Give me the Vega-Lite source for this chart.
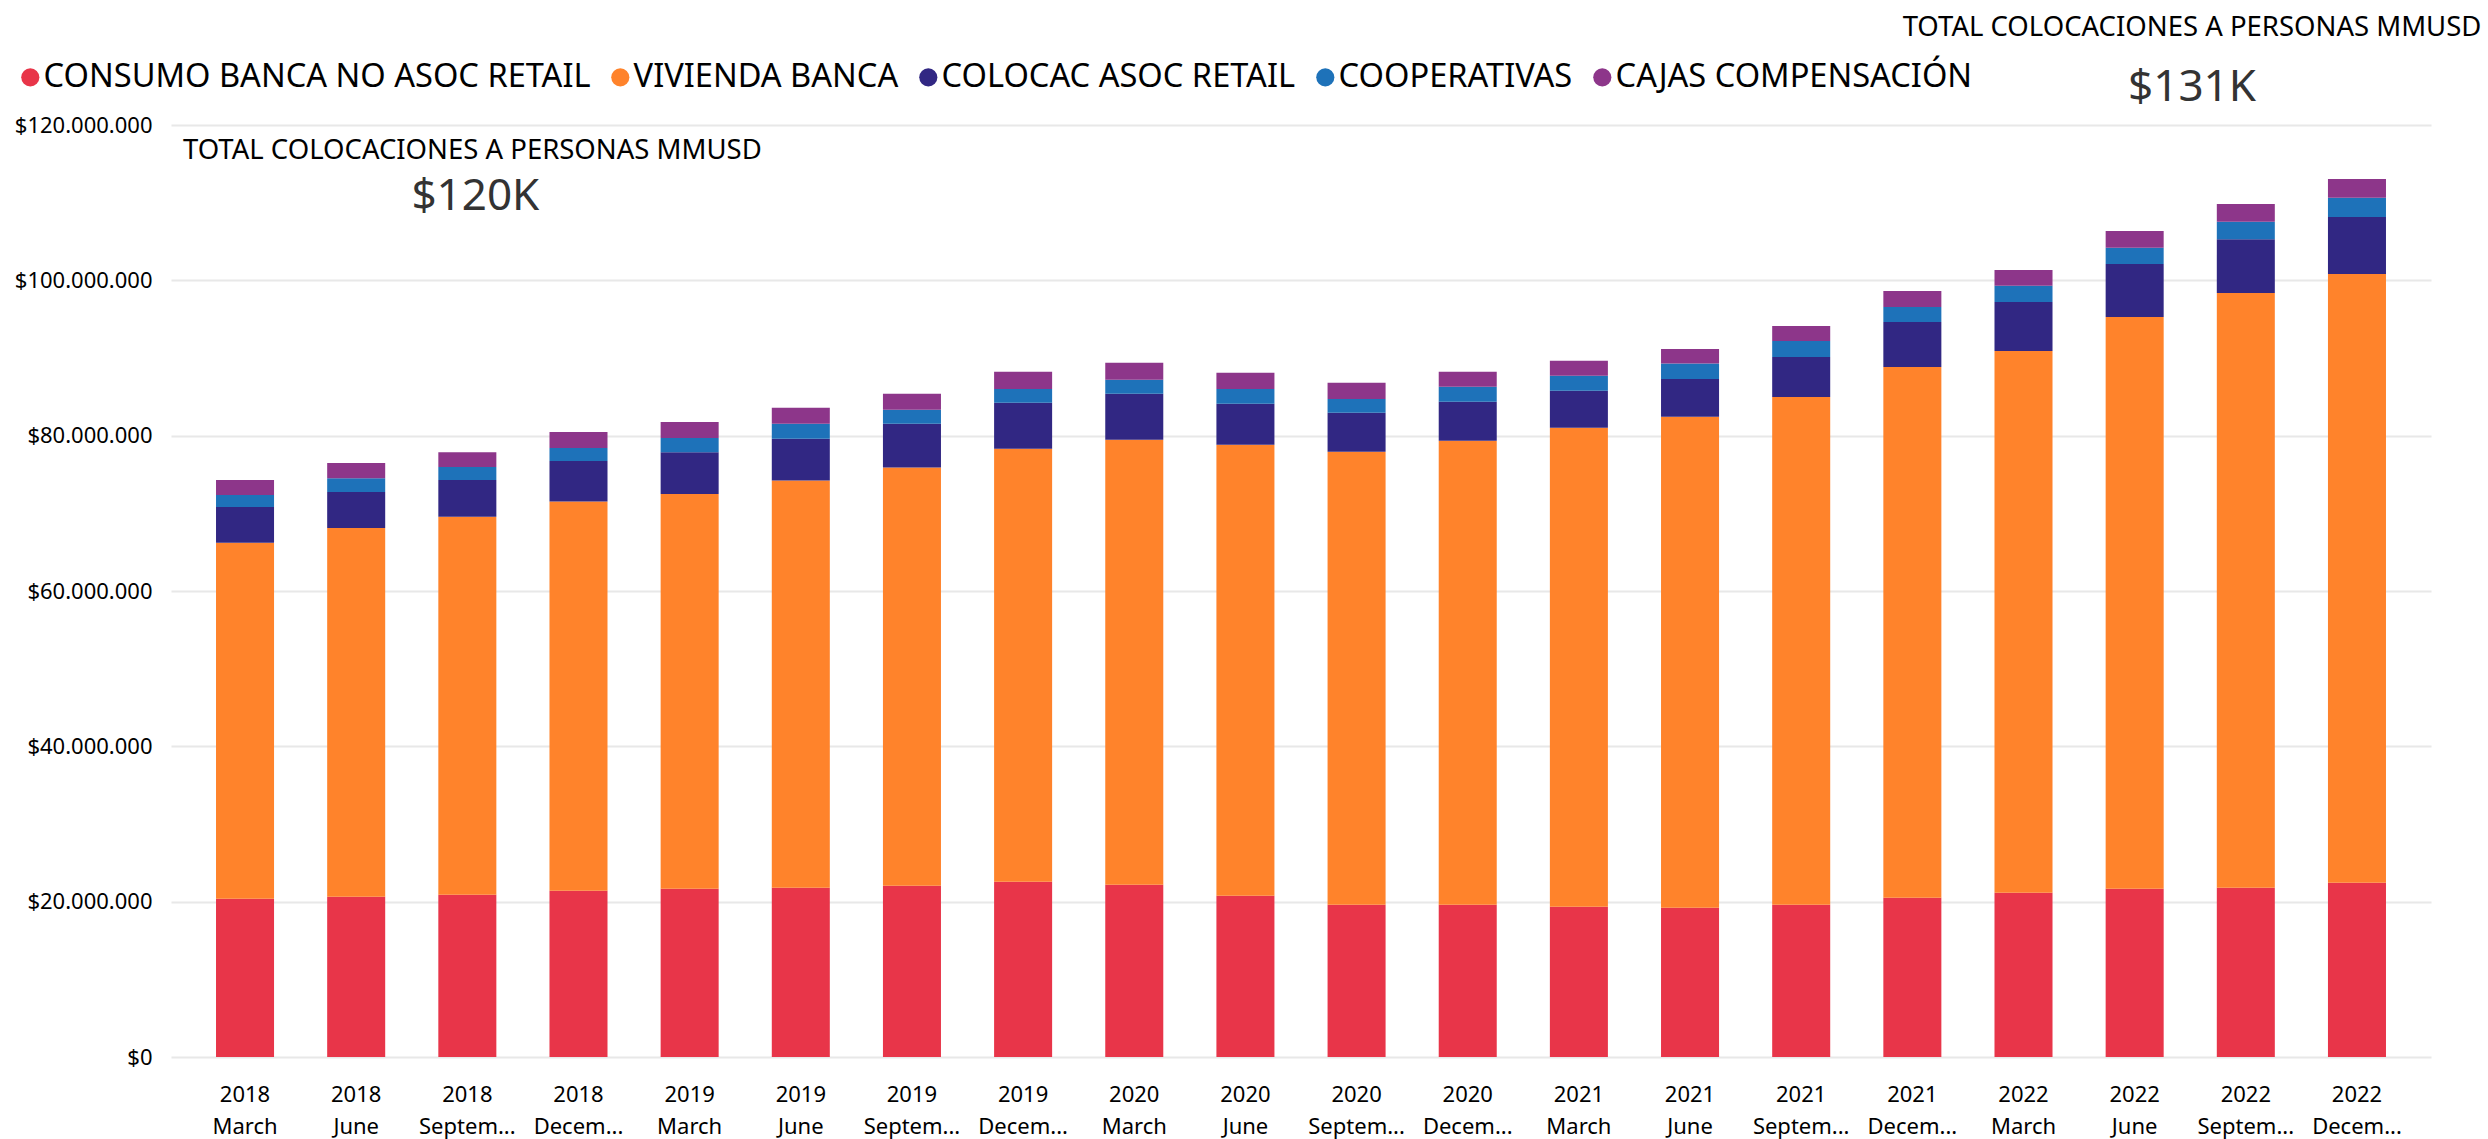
{
  "$schema": "https://vega.github.io/schema/vega-lite/v6.json",
  "width": 2260,
  "height": 932,
  "autosize": {"type": "none"},
  "padding": {"left": 171, "top": 125, "right": 57, "bottom": 82},
  "background": "#ffffff",
  "config": {
    "view": {"stroke": null},
    "font": "Noto Sans",
    "locale": {"number": {"decimal": ",", "thousands": ".", "grouping": [3], "currency": ["$", ""]}}
  },
  "title": {
    "text": "TOTAL COLOCACIONES A PERSONAS MMUSD",
    "subtitle": "$131K",
    "anchor": "end",
    "align": "center",
    "frame": "group",
    "dx": -239,
    "offset": -49,
    "font": "Noto Sans",
    "fontSize": 27.5,
    "fontWeight": "normal",
    "color": "#000000",
    "subtitleFont": "Noto Sans",
    "subtitleFontSize": 44,
    "subtitleColor": "#333333",
    "subtitlePadding": 25
  },
  "datasets": {
    "colocaciones": [
      {"periodo": "2018 March", "serie": "CONSUMO BANCA NO ASOC RETAIL", "orden": 1, "valor": 20390000},
      {"periodo": "2018 March", "serie": "VIVIENDA BANCA", "orden": 2, "valor": 45810000},
      {"periodo": "2018 March", "serie": "COLOCAC ASOC RETAIL", "orden": 3, "valor": 4630000},
      {"periodo": "2018 March", "serie": "COOPERATIVAS", "orden": 4, "valor": 1530000},
      {"periodo": "2018 March", "serie": "CAJAS COMPENSACIÓN", "orden": 5, "valor": 1920000},
      {"periodo": "2018 June", "serie": "CONSUMO BANCA NO ASOC RETAIL", "orden": 1, "valor": 20640000},
      {"periodo": "2018 June", "serie": "VIVIENDA BANCA", "orden": 2, "valor": 47480000},
      {"periodo": "2018 June", "serie": "COLOCAC ASOC RETAIL", "orden": 3, "valor": 4640000},
      {"periodo": "2018 June", "serie": "COOPERATIVAS", "orden": 4, "valor": 1760000},
      {"periodo": "2018 June", "serie": "CAJAS COMPENSACIÓN", "orden": 5, "valor": 1970000},
      {"periodo": "2018 September", "serie": "CONSUMO BANCA NO ASOC RETAIL", "orden": 1, "valor": 20900000},
      {"periodo": "2018 September", "serie": "VIVIENDA BANCA", "orden": 2, "valor": 48650000},
      {"periodo": "2018 September", "serie": "COLOCAC ASOC RETAIL", "orden": 3, "valor": 4730000},
      {"periodo": "2018 September", "serie": "COOPERATIVAS", "orden": 4, "valor": 1670000},
      {"periodo": "2018 September", "serie": "CAJAS COMPENSACIÓN", "orden": 5, "valor": 1930000},
      {"periodo": "2018 December", "serie": "CONSUMO BANCA NO ASOC RETAIL", "orden": 1, "valor": 21420000},
      {"periodo": "2018 December", "serie": "VIVIENDA BANCA", "orden": 2, "valor": 50100000},
      {"periodo": "2018 December", "serie": "COLOCAC ASOC RETAIL", "orden": 3, "valor": 5220000},
      {"periodo": "2018 December", "serie": "COOPERATIVAS", "orden": 4, "valor": 1680000},
      {"periodo": "2018 December", "serie": "CAJAS COMPENSACIÓN", "orden": 5, "valor": 2060000},
      {"periodo": "2019 March", "serie": "CONSUMO BANCA NO ASOC RETAIL", "orden": 1, "valor": 21670000},
      {"periodo": "2019 March", "serie": "VIVIENDA BANCA", "orden": 2, "valor": 50830000},
      {"periodo": "2019 March", "serie": "COLOCAC ASOC RETAIL", "orden": 3, "valor": 5380000},
      {"periodo": "2019 March", "serie": "COOPERATIVAS", "orden": 4, "valor": 1820000},
      {"periodo": "2019 March", "serie": "CAJAS COMPENSACIÓN", "orden": 5, "valor": 2070000},
      {"periodo": "2019 June", "serie": "CONSUMO BANCA NO ASOC RETAIL", "orden": 1, "valor": 21800000},
      {"periodo": "2019 June", "serie": "VIVIENDA BANCA", "orden": 2, "valor": 52420000},
      {"periodo": "2019 June", "serie": "COLOCAC ASOC RETAIL", "orden": 3, "valor": 5390000},
      {"periodo": "2019 June", "serie": "COOPERATIVAS", "orden": 4, "valor": 1930000},
      {"periodo": "2019 June", "serie": "CAJAS COMPENSACIÓN", "orden": 5, "valor": 2060000},
      {"periodo": "2019 September", "serie": "CONSUMO BANCA NO ASOC RETAIL", "orden": 1, "valor": 22060000},
      {"periodo": "2019 September", "serie": "VIVIENDA BANCA", "orden": 2, "valor": 53830000},
      {"periodo": "2019 September", "serie": "COLOCAC ASOC RETAIL", "orden": 3, "valor": 5650000},
      {"periodo": "2019 September", "serie": "COOPERATIVAS", "orden": 4, "valor": 1800000},
      {"periodo": "2019 September", "serie": "CAJAS COMPENSACIÓN", "orden": 5, "valor": 2060000},
      {"periodo": "2019 December", "serie": "CONSUMO BANCA NO ASOC RETAIL", "orden": 1, "valor": 22580000},
      {"periodo": "2019 December", "serie": "VIVIENDA BANCA", "orden": 2, "valor": 55750000},
      {"periodo": "2019 December", "serie": "COLOCAC ASOC RETAIL", "orden": 3, "valor": 5910000},
      {"periodo": "2019 December", "serie": "COOPERATIVAS", "orden": 4, "valor": 1760000},
      {"periodo": "2019 December", "serie": "CAJAS COMPENSACIÓN", "orden": 5, "valor": 2220000},
      {"periodo": "2020 March", "serie": "CONSUMO BANCA NO ASOC RETAIL", "orden": 1, "valor": 22190000},
      {"periodo": "2020 March", "serie": "VIVIENDA BANCA", "orden": 2, "valor": 57300000},
      {"periodo": "2020 March", "serie": "COLOCAC ASOC RETAIL", "orden": 3, "valor": 5910000},
      {"periodo": "2020 March", "serie": "COOPERATIVAS", "orden": 4, "valor": 1790000},
      {"periodo": "2020 March", "serie": "CAJAS COMPENSACIÓN", "orden": 5, "valor": 2190000},
      {"periodo": "2020 June", "serie": "CONSUMO BANCA NO ASOC RETAIL", "orden": 1, "valor": 20770000},
      {"periodo": "2020 June", "serie": "VIVIENDA BANCA", "orden": 2, "valor": 58070000},
      {"periodo": "2020 June", "serie": "COLOCAC ASOC RETAIL", "orden": 3, "valor": 5270000},
      {"periodo": "2020 June", "serie": "COOPERATIVAS", "orden": 4, "valor": 1890000},
      {"periodo": "2020 June", "serie": "CAJAS COMPENSACIÓN", "orden": 5, "valor": 2090000},
      {"periodo": "2020 September", "serie": "CONSUMO BANCA NO ASOC RETAIL", "orden": 1, "valor": 19610000},
      {"periodo": "2020 September", "serie": "VIVIENDA BANCA", "orden": 2, "valor": 58330000},
      {"periodo": "2020 September", "serie": "COLOCAC ASOC RETAIL", "orden": 3, "valor": 5020000},
      {"periodo": "2020 September", "serie": "COOPERATIVAS", "orden": 4, "valor": 1750000},
      {"periodo": "2020 September", "serie": "CAJAS COMPENSACIÓN", "orden": 5, "valor": 2100000},
      {"periodo": "2020 December", "serie": "CONSUMO BANCA NO ASOC RETAIL", "orden": 1, "valor": 19610000},
      {"periodo": "2020 December", "serie": "VIVIENDA BANCA", "orden": 2, "valor": 59750000},
      {"periodo": "2020 December", "serie": "COLOCAC ASOC RETAIL", "orden": 3, "valor": 5010000},
      {"periodo": "2020 December", "serie": "COOPERATIVAS", "orden": 4, "valor": 1930000},
      {"periodo": "2020 December", "serie": "CAJAS COMPENSACIÓN", "orden": 5, "valor": 1920000},
      {"periodo": "2021 March", "serie": "CONSUMO BANCA NO ASOC RETAIL", "orden": 1, "valor": 19360000},
      {"periodo": "2021 March", "serie": "VIVIENDA BANCA", "orden": 2, "valor": 61670000},
      {"periodo": "2021 March", "serie": "COLOCAC ASOC RETAIL", "orden": 3, "valor": 4750000},
      {"periodo": "2021 March", "serie": "COOPERATIVAS", "orden": 4, "valor": 1930000},
      {"periodo": "2021 March", "serie": "CAJAS COMPENSACIÓN", "orden": 5, "valor": 1930000},
      {"periodo": "2021 June", "serie": "CONSUMO BANCA NO ASOC RETAIL", "orden": 1, "valor": 19230000},
      {"periodo": "2021 June", "serie": "VIVIENDA BANCA", "orden": 2, "valor": 63190000},
      {"periodo": "2021 June", "serie": "COLOCAC ASOC RETAIL", "orden": 3, "valor": 4880000},
      {"periodo": "2021 June", "serie": "COOPERATIVAS", "orden": 4, "valor": 1980000},
      {"periodo": "2021 June", "serie": "CAJAS COMPENSACIÓN", "orden": 5, "valor": 1890000},
      {"periodo": "2021 September", "serie": "CONSUMO BANCA NO ASOC RETAIL", "orden": 1, "valor": 19610000},
      {"periodo": "2021 September", "serie": "VIVIENDA BANCA", "orden": 2, "valor": 65360000},
      {"periodo": "2021 September", "serie": "COLOCAC ASOC RETAIL", "orden": 3, "valor": 5160000},
      {"periodo": "2021 September", "serie": "COOPERATIVAS", "orden": 4, "valor": 2060000},
      {"periodo": "2021 September", "serie": "CAJAS COMPENSACIÓN", "orden": 5, "valor": 1930000},
      {"periodo": "2021 December", "serie": "CONSUMO BANCA NO ASOC RETAIL", "orden": 1, "valor": 20520000},
      {"periodo": "2021 December", "serie": "VIVIENDA BANCA", "orden": 2, "valor": 68320000},
      {"periodo": "2021 December", "serie": "COLOCAC ASOC RETAIL", "orden": 3, "valor": 5790000},
      {"periodo": "2021 December", "serie": "COOPERATIVAS", "orden": 4, "valor": 1930000},
      {"periodo": "2021 December", "serie": "CAJAS COMPENSACIÓN", "orden": 5, "valor": 2060000},
      {"periodo": "2022 March", "serie": "CONSUMO BANCA NO ASOC RETAIL", "orden": 1, "valor": 21160000},
      {"periodo": "2022 March", "serie": "VIVIENDA BANCA", "orden": 2, "valor": 69740000},
      {"periodo": "2022 March", "serie": "COLOCAC ASOC RETAIL", "orden": 3, "valor": 6310000},
      {"periodo": "2022 March", "serie": "COOPERATIVAS", "orden": 4, "valor": 2100000},
      {"periodo": "2022 March", "serie": "CAJAS COMPENSACIÓN", "orden": 5, "valor": 2020000},
      {"periodo": "2022 June", "serie": "CONSUMO BANCA NO ASOC RETAIL", "orden": 1, "valor": 21670000},
      {"periodo": "2022 June", "serie": "VIVIENDA BANCA", "orden": 2, "valor": 73600000},
      {"periodo": "2022 June", "serie": "COLOCAC ASOC RETAIL", "orden": 3, "valor": 6830000},
      {"periodo": "2022 June", "serie": "COOPERATIVAS", "orden": 4, "valor": 2100000},
      {"periodo": "2022 June", "serie": "CAJAS COMPENSACIÓN", "orden": 5, "valor": 2150000},
      {"periodo": "2022 September", "serie": "CONSUMO BANCA NO ASOC RETAIL", "orden": 1, "valor": 21800000},
      {"periodo": "2022 September", "serie": "VIVIENDA BANCA", "orden": 2, "valor": 76560000},
      {"periodo": "2022 September", "serie": "COLOCAC ASOC RETAIL", "orden": 3, "valor": 6940000},
      {"periodo": "2022 September", "serie": "COOPERATIVAS", "orden": 4, "valor": 2250000},
      {"periodo": "2022 September", "serie": "CAJAS COMPENSACIÓN", "orden": 5, "valor": 2270000},
      {"periodo": "2022 December", "serie": "CONSUMO BANCA NO ASOC RETAIL", "orden": 1, "valor": 22450000},
      {"periodo": "2022 December", "serie": "VIVIENDA BANCA", "orden": 2, "valor": 78350000},
      {"periodo": "2022 December", "serie": "COLOCAC ASOC RETAIL", "orden": 3, "valor": 7350000},
      {"periodo": "2022 December", "serie": "COOPERATIVAS", "orden": 4, "valor": 2490000},
      {"periodo": "2022 December", "serie": "CAJAS COMPENSACIÓN", "orden": 5, "valor": 2400000}
    ]
  },
  "layer": [
    {
      "data": {"name": "colocaciones"},
      "mark": {"type": "bar"},
      "encoding": {
        "x": {
          "field": "periodo",
          "type": "nominal",
          "sort": null,
          "scale": {"paddingInner": 0.478, "paddingOuter": 0.405},
          "axis": {
            "title": null,
            "domain": false,
            "ticks": false,
            "labelAngle": 0,
            "labelFontSize": 22,
            "labelColor": "#000000",
            "labelLineHeight": 32,
            "labelPadding": 27,
            "labelExpr": "[split(datum.label, ' ')[0], split(datum.label, ' ')[1] == 'September' ? 'Septem...' : split(datum.label, ' ')[1] == 'December' ? 'Decem...' : split(datum.label, ' ')[1]]"
          }
        },
        "y": {
          "field": "valor",
          "type": "quantitative",
          "stack": "zero",
          "scale": {"domain": [0, 120000000], "nice": false},
          "axis": {
            "title": null,
            "values": [0, 20000000, 40000000, 60000000, 80000000, 100000000, 120000000],
            "format": "$,.0f",
            "domain": false,
            "ticks": false,
            "labelFontSize": 22,
            "labelColor": "#000000",
            "labelPadding": 19,
            "gridColor": "#E8E8E8",
            "gridWidth": 2
          }
        },
        "color": {
          "field": "serie",
          "type": "nominal",
          "sort": ["CONSUMO BANCA NO ASOC RETAIL", "VIVIENDA BANCA", "COLOCAC ASOC RETAIL", "COOPERATIVAS", "CAJAS COMPENSACIÓN"],
          "scale": {
            "domain": ["CONSUMO BANCA NO ASOC RETAIL", "VIVIENDA BANCA", "COLOCAC ASOC RETAIL", "COOPERATIVAS", "CAJAS COMPENSACIÓN"],
            "range": ["#E83549", "#FF832B", "#312783", "#1E72B9", "#8D368A"]
          },
          "legend": {
            "title": null,
            "orient": "none",
            "legendX": -157,
            "legendY": -64,
            "direction": "horizontal",
            "columns": 5,
            "columnPadding": 13,
            "padding": 0,
            "symbolType": "circle",
            "symbolSize": 330,
            "symbolStrokeWidth": 0,
            "labelOffset": -3,
            "labelFontSize": 32.6,
            "labelColor": "#000000",
            "labelLimit": 1000
          }
        },
        "order": {"field": "orden", "type": "quantitative", "sort": "ascending"}
      }
    },
    {
      "data": {"values": [{"texto": "TOTAL COLOCACIONES A PERSONAS MMUSD"}]},
      "mark": {"type": "text", "fontSize": 27.5, "color": "#000000", "align": "center", "baseline": "middle", "dx": 5},
      "encoding": {
        "x": {"datum": "2018 September"},
        "y": {"datum": 116700000},
        "text": {"field": "texto"}
      }
    },
    {
      "data": {"values": [{"texto": "$120K"}]},
      "mark": {"type": "text", "fontSize": 44, "color": "#333333", "align": "center", "baseline": "middle", "dx": 8},
      "encoding": {
        "x": {"datum": "2018 September"},
        "y": {"datum": 110700000},
        "text": {"field": "texto"}
      }
    }
  ]
}
